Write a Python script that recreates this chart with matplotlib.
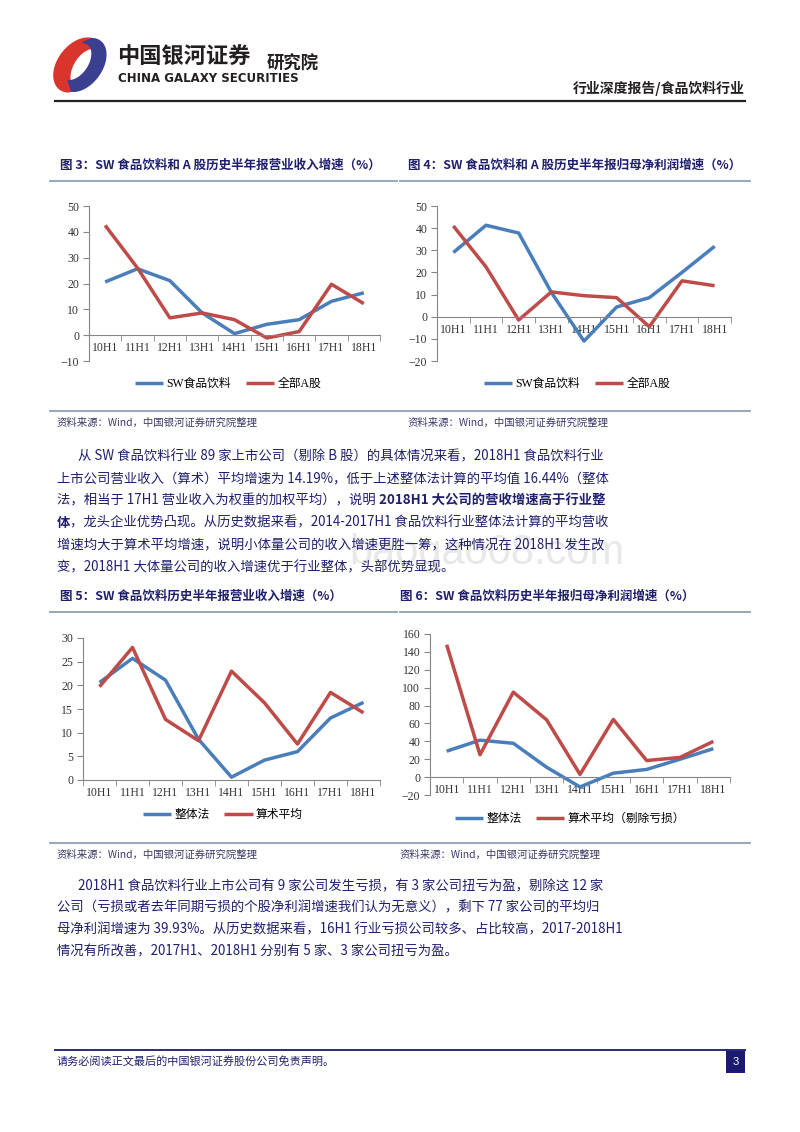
import numpy as np
import matplotlib
matplotlib.use("Agg")
import matplotlib.pyplot as plt
from matplotlib.patches import Polygon, Rectangle

# --- data read from the page ---
periods = ["10H1", "11H1", "12H1", "13H1", "14H1", "15H1", "16H1", "17H1", "18H1"]

rev_sw = [20.6, 25.7, 21.1, 8.6, 0.6, 4.2, 6.0, 13.1, 16.4]
rev_a = [42.5, 26.0, 6.7, 8.6, 6.0, -1.1, 1.4, 19.7, 12.2]

np_sw = [29.0, 41.3, 37.8, 11.0, -11.0, 4.4, 8.6, 20.0, 31.8]
np_a = [41.0, 22.5, -1.5, 11.2, 9.5, 8.6, -4.5, 16.2, 14.0]

rev_whole = [20.6, 25.7, 21.1, 8.6, 0.6, 4.2, 6.0, 13.1, 16.4]
rev_mean = [19.7, 28.0, 12.8, 8.3, 23.0, 16.3, 7.6, 18.5, 14.19]

np_whole = [29.0, 41.3, 37.8, 11.0, -11.0, 4.4, 8.6, 20.0, 31.8]
np_mean = [148.0, 25.0, 95.0, 64.0, 3.0, 64.5, 18.5, 22.0, 39.93]

BLUE = "#4a7ebb"
RED = "#be4b48"
NAVY = "#1f1f6e"
GREY = "#868686"

CJK = ["Noto Sans CJK SC", "DejaVu Sans"]
SERIF_CJK = ["Liberation Serif", "Noto Sans CJK SC"]
plt.rcParams["font.family"] = SERIF_CJK

W, H = 800, 1132
fig = plt.figure(figsize=(8, 11.32), dpi=100)


def fx(x):
    return x / W


def fy(y):
    return 1 - y / H


def hline(x0, x1, y, color, lw):
    fig.add_artist(plt.Line2D([fx(x0), fx(x1)], [fy(y), fy(y)], color=color, lw=lw,
                              transform=fig.transFigure))


# --- header ---
logo = fig.add_axes([fx(50), fy(93), fx(62), 56 / H])
logo.set_xlim(0, 1.1)
logo.set_ylim(0, 1)
logo.set_aspect("equal")
logo.axis("off")


def lean(pts):
    pts = np.array(pts)
    pts[:, 0] = pts[:, 0] + 0.35 * (pts[:, 1] - 0.5)
    return pts


t = np.linspace(np.radians(80), np.radians(270), 60)
outer = np.c_[0.50 + 0.40 * np.cos(t), 0.5 + 0.48 * np.sin(t)]
inner = np.c_[0.66 + 0.26 * np.cos(t[::-1]), 0.44 + 0.36 * np.sin(t[::-1])]
logo.add_patch(Polygon(lean(np.r_[outer, inner]), color="#d9352c"))
t2 = np.linspace(np.radians(-95), np.radians(90), 60)
outer2 = np.c_[0.58 + 0.38 * np.cos(t2), 0.5 + 0.47 * np.sin(t2)]
inner2 = np.c_[0.44 + 0.26 * np.cos(t2[::-1]), 0.56 + 0.34 * np.sin(t2[::-1])]
logo.add_patch(Polygon(lean(np.r_[outer2, inner2]), color="#3a3f8f"))

fig.text(fx(117), fy(57), "中国银河证券", family=CJK, fontsize=16, weight="bold",
         color="#231f20", va="center", ha="left")
fig.text(fx(118), fy(78), "CHINA GALAXY SECURITIES", family=["Liberation Sans Narrow", "DejaVu Sans"],
         fontsize=8.5, weight="bold", color="#231f20", va="center", ha="left")
fig.text(fx(267), fy(64), "研究院", family=CJK, fontsize=12.5, weight="bold",
         color="#231f20", va="center", ha="left")
fig.text(fx(745), fy(88), "行业深度报告/食品饮料行业", family=CJK, fontsize=10, weight="bold",
         color="#231f20", va="center", ha="right")
hline(55, 745, 101, "#222222", 1.6)


# --- charts ---
def chart(rect, s1, s2, names, ylim, step, legend_xy, zero_axis):
    l, r, top, bot = rect
    ax = fig.add_axes([fx(l), fy(bot), fx(r - l), (bot - top) / H])
    x = np.arange(len(periods))
    ax.plot(x, s1, color=BLUE, lw=2.5, label=names[0], solid_capstyle="butt")
    ax.plot(x, s2, color=RED, lw=2.5, label=names[1], solid_capstyle="butt")
    for side in ["top", "right"]:
        ax.spines[side].set_visible(False)
    for side in ["left", "bottom"]:
        ax.spines[side].set_color(GREY)
        ax.spines[side].set_linewidth(0.8)
    if zero_axis:
        ax.spines["bottom"].set_position(("data", 0))
    ax.set_xlim(-0.5, len(periods) - 0.5)
    ax.set_ylim(*ylim)
    ax.set_yticks(np.arange(ylim[0], ylim[1] + 1, step))
    ax.set_xticks(x)
    ax.set_xticklabels(periods)
    ax.set_xticks(np.arange(-0.5, len(periods), 1), minor=True)
    ax.tick_params(axis="x", which="major", length=0, pad=5)
    ax.tick_params(axis="x", which="minor", length=4, color=GREY, direction="out")
    ax.tick_params(axis="y", length=4, color=GREY, direction="out", pad=3)
    ax.tick_params(axis="both", labelsize=8.5, labelcolor="#333333")
    ax.patch.set_alpha(0)
    ax.legend(loc="center", bbox_to_anchor=(fx(legend_xy[0]), fy(legend_xy[1])),
              bbox_transform=fig.transFigure, ncol=2, frameon=False,
              handlelength=2.4, handletextpad=0.3, columnspacing=1.2,
              prop={"family": SERIF_CJK, "size": 8.5})
    return ax


chart((89, 380, 206, 361), rev_sw, rev_a, ["SW食品饮料", "全部A股"], (-10, 50), 10, (228, 384), True)
chart((437, 731, 206, 361), np_sw, np_a, ["SW食品饮料", "全部A股"], (-20, 50), 10, (577, 384), True)
chart((83, 380, 638, 780), rev_whole, rev_mean, ["整体法", "算术平均"], (0, 30), 5, (223, 815), False)
chart((430, 730, 634, 795), np_whole, np_mean, ["整体法", "算术平均（剔除亏损）"], (-20, 160), 20, (570, 819), True)

# chart titles, rules and sources
titles = [
    (60, 165, "图 3：SW 食品饮料和 A 股历史半年报营业收入增速（%）"),
    (408, 165, "图 4：SW 食品饮料和 A 股历史半年报归母净利润增速（%）"),
    (60, 596, "图 5：SW 食品饮料历史半年报营业收入增速（%）"),
    (400, 596, "图 6：SW 食品饮料历史半年报归母净利润增速（%）"),
]
for x0, y0, s in titles:
    fig.text(fx(x0), fy(y0), s, family=CJK, fontsize=9, weight="bold", color=NAVY,
             va="center", ha="left")
for y0 in (181, 612):
    hline(50, 397, y0, "#8ea0b8", 1.3)
    hline(400, 750, y0, "#8ea0b8", 1.3)
for y0 in (411, 843):
    hline(50, 750, y0, "#8ea0b8", 1.3)
for x0, y0 in ((57, 423), (408, 423), (57, 855), (400, 855)):
    fig.text(fx(x0), fy(y0), "资料来源：Wind，中国银河证券研究院整理", family=CJK, fontsize=7.5,
             style="italic", color="#3a3a6a", va="center", ha="left")

# --- body text ---
fig.text(fx(487), fy(553), "baogao08.com", family=["Liberation Sans", "DejaVu Sans"], fontsize=30,
         color="#e8e8e8", va="center", ha="center", zorder=-5)

para1 = [
    [("从 SW 食品饮料行业 89 家上市公司（剔除 B 股）的具体情况来看，2018H1 食品饮料行业", False)],
    [("上市公司营业收入（算术）平均增速为 14.19%，低于上述整体法计算的平均值 16.44%（整体", False)],
    [("法，相当于 17H1 营业收入为权重的加权平均），说明 ", False), ("2018H1 大公司的营收增速高于行业整", True)],
    [("体", True), ("，龙头企业优势凸现。从历史数据来看，2014-2017H1 食品饮料行业整体法计算的平均营收", False)],
    [("增速均大于算术平均增速，说明小体量公司的收入增速更胜一筹，这种情况在 2018H1 发生改", False)],
    [("变，2018H1 大体量公司的收入增速优于行业整体，头部优势显现。", False)],
]
para2 = [
    [("2018H1 食品饮料行业上市公司有 9 家公司发生亏损，有 3 家公司扭亏为盈，剔除这 12 家", False)],
    [("公司（亏损或者去年同期亏损的个股净利润增速我们认为无意义），剩下 77 家公司的平均归", False)],
    [("母净利润增速为 39.93%。从历史数据来看，16H1 行业亏损公司较多、占比较高，2017-2018H1", False)],
    [("情况有所改善，2017H1、2018H1 分别有 5 家、3 家公司扭亏为盈。", False)],
]

renderer = fig.canvas.get_renderer()


def draw_para(lines, y_start, gap):
    for i, segs in enumerate(lines):
        x = 78 if i == 0 else 57
        y = y_start + i * gap
        for s, bold in segs:
            txt = fig.text(fx(x), fy(y), s, family=CJK, fontsize=9.6,
                           weight="bold" if bold else "normal", color=NAVY,
                           va="center", ha="left")
            x += txt.get_window_extent(renderer).width


draw_para(para1, 456, 22.2)
draw_para(para2, 886, 21.8)

# --- footer ---
hline(55, 745, 1050, "#2a2a7a", 1.4)
fig.text(fx(57), fy(1062), "请务必阅读正文最后的中国银河证券股份公司免责声明。", family=CJK, fontsize=8,
         color=NAVY, va="center", ha="left")
fig.add_artist(Rectangle((fx(726), fy(1073)), fx(19), 23 / H, transform=fig.transFigure,
                         facecolor="#1a1a6e", edgecolor="none"))
fig.text(fx(735.5), fy(1062), "3", family=["Liberation Sans", "DejaVu Sans"], fontsize=8,
         color="white", va="center", ha="center")

fig.savefig("out.png", dpi=100)
